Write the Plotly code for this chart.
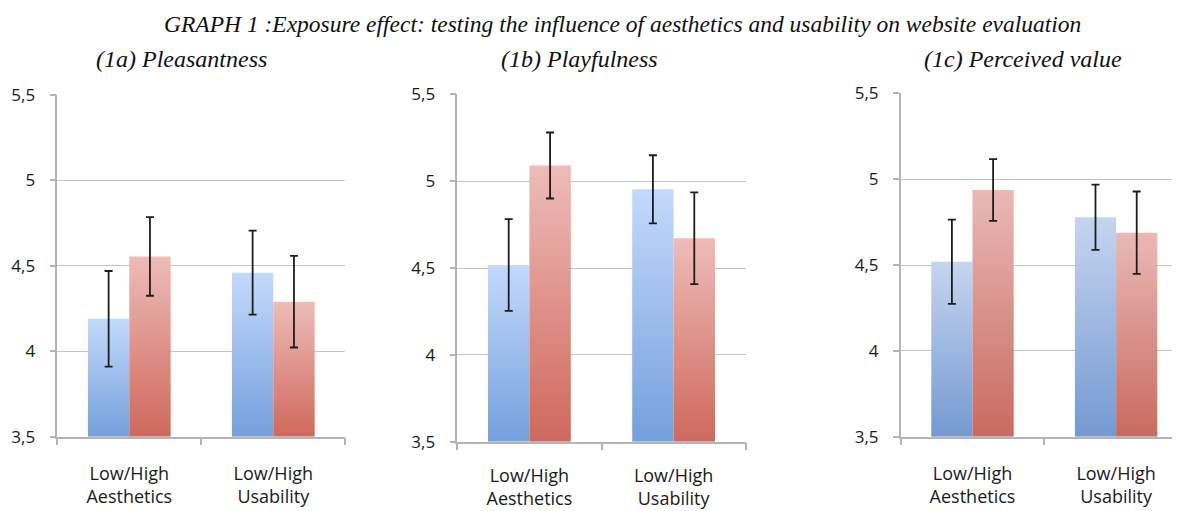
import plotly.graph_objects as go

# ---- data ----
categories = ["Low/High<br>Aesthetics", "Low/High<br>Usability"]
panel_titles = ["(1a) Pleasantness", "(1b) Playfulness", "(1c) Perceived value"]
main_title = "GRAPH 1 :Exposure effect: testing the influence of aesthetics and usability on website evaluation"

low_1a = [4.19, 4.46]
high_1a = [4.555, 4.29]
low_err_1a = [0.28, 0.246]
high_err_1a = [0.23, 0.268]

low_1b = [4.517, 4.953]
high_1b = [5.09, 4.671]
low_err_1b = [0.264, 0.196]
high_err_1b = [0.19, 0.264]

low_1c = [4.519, 4.778]
high_1c = [4.937, 4.688]
low_err_1c = [0.245, 0.19]
high_err_1c = [0.18, 0.24]

y_tickvals = [3.5, 4.0, 4.5, 5.0, 5.5]
y_ticktext = ["3,5", "4", "4,5", "5", "5,5"]
base = 3.5

panels = [
    (low_1a, high_1a, low_err_1a, high_err_1a),
    (low_1b, high_1b, low_err_1b, high_err_1b),
    (low_1c, high_1c, low_err_1c, high_err_1c),
]

# ---- style ----
OFF = 8  # default page body margin
W, H = 1180 - OFF, 511 - OFF
BAR_W = 0.287
BLUE = [[0, "#74a0dc"], [1, "#c4d9fb"]]
BLUE_C = [[0, "#7499d2"], [1, "#c5d5ef"]]
RED = [[0, "#cf685c"], [1, "#eebcb8"]]
RED_C = [[0, "#c96a60"], [1, "#e9b9b5"]]
GRID = "#c4c4c4"
AXIS = "#b4b4b4"
ERR = "#1c1c1c"


def px_x(x):
    return (x - OFF) / W


def px_y(y):
    return 1 - (y - OFF) / H


# pixel layout of each panel (window coords):
# (x_left, x_right, y_top, y_bottom, x_range_end, label_standoff)
geo = [
    (57.3, 345.3, 95.0, 436.7, 1.5, 13),
    (457.3, 745.7, 94.3, 441.7, 1.5, 10),
    (900.7, 1180.0, 93.3, 436.7, 1.5 - 7.9 / 143.6, 13),
]

fig = go.Figure()

for i, (low, high, lerr, herr) in enumerate(panels):
    xa = "x" if i == 0 else f"x{i+1}"
    ya = "y" if i == 0 else f"y{i+1}"
    blue = BLUE_C if i == 2 else BLUE
    red = RED_C if i == 2 else RED
    for c in range(len(categories)):
        for vals, off, cs in ((low, -1, blue), (high, 1, red)):
            v = vals[c]
            x0 = c - BAR_W if off < 0 else c
            x1 = x0 + BAR_W
            fig.add_trace(go.Scatter(
                x=[x0, x0, x1, x1, x0], y=[base, v, v, base, base],
                xaxis=xa, yaxis=ya, mode="lines", fill="toself",
                line=dict(width=0, color="rgba(0,0,0,0)"),
                fillgradient=dict(type="vertical", colorscale=cs),
                hoverinfo="skip", showlegend=False,
            ))
    # error bars at bar centres
    xs = [c - BAR_W / 2 for c in range(len(categories))] + [c + BAR_W / 2 for c in range(len(categories))]
    ys = list(low) + list(high)
    es = list(lerr) + list(herr)
    fig.add_trace(go.Scatter(
        x=xs, y=ys, xaxis=xa, yaxis=ya, mode="markers",
        marker=dict(size=1, color="rgba(0,0,0,0)"),
        error_y=dict(type="data", array=es, color=ERR, thickness=1.8, width=4),
        hoverinfo="skip", showlegend=False,
    ))

layout = dict(
    width=W, height=H,
    margin=dict(l=0, r=0, t=0, b=0, autoexpand=False),
    paper_bgcolor="white", plot_bgcolor="white",
    showlegend=False,
)

for i, (xl, xr, yt, yb, xend, stand) in enumerate(geo):
    sx = "" if i == 0 else str(i + 1)
    layout["xaxis" + sx] = dict(
        domain=[px_x(xl), min(1.0, px_x(xr))], anchor="y" + sx, range=[-0.5, xend],
        tickmode="array", tickvals=list(range(len(categories))), ticktext=categories,
        ticks="outside", ticklen=7, tickcolor="rgba(0,0,0,0)",
        minor=dict(tickmode="array", tickvals=[-0.5, 0.5, 1.5], ticks="outside",
                   ticklen=7, tickwidth=1.5, tickcolor=AXIS, showgrid=False),
        showline=True, linecolor=AXIS, linewidth=1.5, showgrid=False, zeroline=False,
        tickfont=dict(family="Open Sans", size=18, color="#1a1a1a"),
        ticklabelstandoff=stand, fixedrange=True, automargin=False,
    )
    layout["yaxis" + sx] = dict(
        domain=[px_y(yb), px_y(yt)], anchor="x" + sx, range=[3.5, 5.5],
        tickmode="array", tickvals=y_tickvals, ticktext=y_ticktext,
        ticks="outside", ticklen=6, tickwidth=1.5, tickcolor=AXIS,
        showline=True, linecolor=AXIS, linewidth=1.5,
        showgrid=True, gridcolor=GRID, gridwidth=1.3, zeroline=False,
        tickfont=dict(family="Open Sans", size=17, color="#1a1a1a"),
        ticklabelstandoff=11, fixedrange=True, automargin=False,
    )

fig.update_layout(**layout)

ann = [dict(text="<i>" + main_title + "</i>", x=px_x(622), y=px_y(24),
            xref="paper", yref="paper", showarrow=False, xanchor="center", yanchor="middle",
            font=dict(family="Liberation Serif", size=23.5, color="#111"))]
for t, cx in zip(panel_titles, [181, 579, 1023]):
    ann.append(dict(text="<i>" + t + "</i>", x=px_x(cx), y=px_y(59),
                    xref="paper", yref="paper", showarrow=False, xanchor="center", yanchor="middle",
                    font=dict(family="Liberation Serif", size=24, color="#111")))
fig.update_layout(annotations=ann)

fig.write_html("out.html")
